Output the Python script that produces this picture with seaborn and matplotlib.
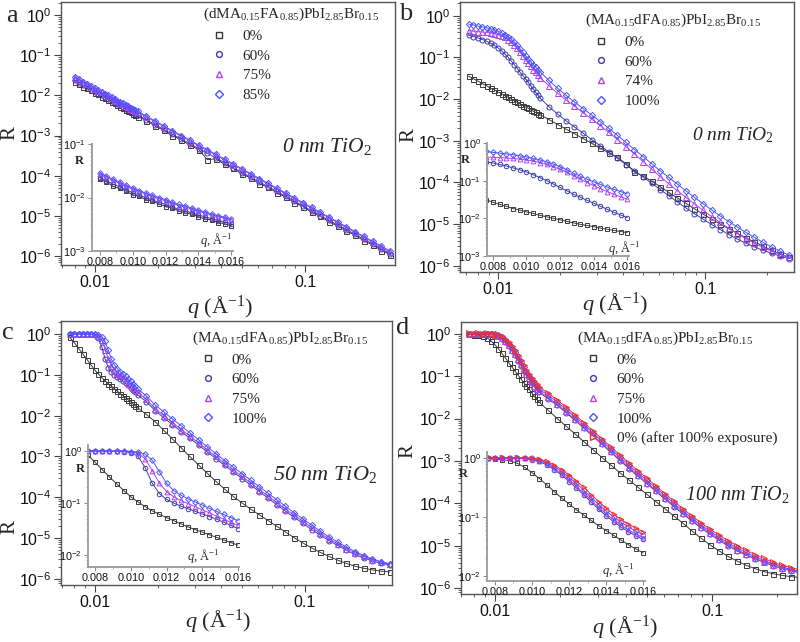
import numpy as np
import pandas as pd
import matplotlib
matplotlib.use("Agg")
import matplotlib.pyplot as plt
import seaborn as sns
from matplotlib.ticker import LogLocator, NullFormatter, MultipleLocator, FuncFormatter

nan = np.nan

# ---------------- data (q in 1/Angstrom, values are log10 R) ----------------
Q = [0.0072, 0.0076, 0.0080, 0.0084, 0.0088, 0.0092, 0.0096, 0.0100, 0.0104, 0.0108,
     0.0112, 0.0116, 0.0120, 0.0124, 0.0128, 0.0132, 0.0136, 0.0140, 0.0144, 0.0148,
     0.0152, 0.0156, 0.0160,
     0.0176, 0.0194, 0.0213, 0.0234, 0.0258, 0.0283, 0.0312, 0.0343, 0.0377, 0.0415,
     0.0456, 0.0502, 0.0552, 0.0607, 0.0668, 0.0735, 0.0808, 0.0889, 0.0978, 0.1076,
     0.1183, 0.1302, 0.1432, 0.1575, 0.1733, 0.1906, 0.2097, 0.2306, 0.2537]

# panel a : (dMA0.15FA0.85)PbI2.85Br0.15, 0 nm TiO2
a_0 = [nan, nan, -1.66, -1.71, -1.79, -1.83, -1.88, -1.95, -1.98, -2.04, -2.07, -2.12, -2.17, -2.20, -2.25, -2.29, -2.31, -2.36, -2.40, -2.42, -2.47, -2.49, -2.53,
       -2.63, -2.77, -2.87, -3.01, -3.11, -3.24, -3.35, -3.60, -3.58, -3.72, -3.82, -3.96, -4.06, -4.20, -4.29, -4.43, -4.53, -4.67, -4.77, -4.91, -5.01, -5.15, -5.25, -5.38, -5.48, -5.62, -5.72, -5.86, -5.96]
a_60 = [nan, nan, -1.63, -1.69, -1.75, -1.80, -1.86, -1.91, -1.96, -2.00, -2.05, -2.09, -2.13, -2.18, -2.22, -2.25, -2.29, -2.33, -2.36, -2.40, -2.43, -2.46, -2.49,
        -2.61, -2.73, -2.85, -2.97, -3.09, -3.20, -3.33, -3.44, -3.56, -3.68, -3.80, -3.92, -4.04, -4.16, -4.27, -4.39, -4.51, -4.63, -4.75, -4.87, -4.99, -5.11, -5.23, -5.34, -5.46, -5.58, -5.70, -5.82, -5.94]
a_75 = [nan, nan, -1.56, -1.62, -1.68, -1.73, -1.79, -1.84, -1.89, -1.93, -1.98, -2.02, -2.06, -2.11, -2.15, -2.18, -2.22, -2.26, -2.29, -2.33, -2.36, -2.39, -2.42,
        -2.54, -2.66, -2.78, -2.90, -3.02, -3.13, -3.26, -3.37, -3.49, -3.61, -3.73, -3.85, -3.97, -4.09, -4.21, -4.33, -4.45, -4.57, -4.69, -4.81, -4.93, -5.05, -5.17, -5.29, -5.41, -5.53, -5.65, -5.78, -5.90]
a_85 = [nan, nan, -1.54, -1.60, -1.66, -1.71, -1.77, -1.82, -1.87, -1.92, -1.96, -2.00, -2.04, -2.09, -2.13, -2.16, -2.20, -2.24, -2.27, -2.31, -2.34, -2.37, -2.40,
        -2.52, -2.64, -2.76, -2.88, -3.00, -3.11, -3.24, -3.35, -3.47, -3.59, -3.71, -3.83, -3.95, -4.07, -4.19, -4.31, -4.43, -4.55, -4.67, -4.79, -4.91, -5.03, -5.15, -5.27, -5.39, -5.51, -5.63, -5.75, -5.87]

# panel b : (MA0.15dFA0.85)PbI2.85Br0.15, 0 nm TiO2
b_0 = [-1.45, -1.51, -1.57, -1.63, -1.68, -1.74, -1.78, -1.83, -1.87, -1.92, -1.96, -2.00, -2.04, -2.08, -2.12, -2.16, -2.19, -2.22, -2.26, -2.29, -2.32, -2.35, -2.38,
       -2.49, -2.61, -2.72, -2.83, -2.95, -3.06, -3.18, -3.29, -3.40, -3.55, -3.75, -3.85, -3.97, -4.10, -4.24, -4.37, -4.50, -4.63, -4.76, -4.88, -5.00, -5.11, -5.22, -5.33, -5.43, -5.53, -5.63, -5.72, -5.80]
b_60 = [-0.47, -0.50, -0.53, -0.57, -0.61, -0.66, -0.71, -0.77, -0.84, -0.92, -1.00, -1.09, -1.18, -1.27, -1.36, -1.44, -1.52, -1.60, -1.68, -1.76, -1.84, -1.91, -1.98,
        -2.18, -2.36, -2.52, -2.67, -2.82, -2.97, -3.12, -3.27, -3.42, -3.57, -3.72, -3.87, -4.02, -4.17, -4.32, -4.47, -4.61, -4.75, -4.88, -5.01, -5.13, -5.25, -5.36, -5.46, -5.55, -5.63, -5.70, -5.77, -5.83]
b_74 = [-0.36, -0.37, -0.38, -0.39, -0.40, -0.41, -0.43, -0.45, -0.48, -0.52, -0.57, -0.63, -0.70, -0.78, -0.87, -0.96, -1.05, -1.13, -1.21, -1.29, -1.36, -1.43, -1.49,
        -1.68, -1.86, -2.02, -2.17, -2.33, -2.48, -2.64, -2.80, -2.97, -3.14, -3.32, -3.50, -3.68, -3.86, -4.03, -4.20, -4.36, -4.52, -4.67, -4.82, -4.96, -5.10, -5.23, -5.35, -5.46, -5.56, -5.65, -5.73, -5.80]
b_100 = [-0.20, -0.22, -0.25, -0.27, -0.29, -0.31, -0.34, -0.37, -0.41, -0.45, -0.50, -0.56, -0.63, -0.71, -0.80, -0.88, -0.96, -1.03, -1.10, -1.17, -1.23, -1.29, -1.35,
         -1.55, -1.74, -1.91, -2.07, -2.23, -2.38, -2.54, -2.70, -2.87, -3.04, -3.21, -3.38, -3.55, -3.72, -3.88, -4.04, -4.20, -4.36, -4.51, -4.66, -4.80, -4.94, -5.07, -5.20, -5.32, -5.44, -5.55, -5.65, -5.74]

# panel c : 50 nm TiO2
c_0 = [nan, -0.08, -0.22, -0.36, -0.50, -0.63, -0.76, -0.88, -0.98, -1.07, -1.15, -1.22, -1.28, -1.34, -1.40, -1.46, -1.51, -1.56, -1.61, -1.66, -1.71, -1.76, -1.81,
       -1.97, -2.15, -2.36, -2.57, -2.79, -3.00, -3.21, -3.41, -3.61, -3.80, -3.98, -4.14, -4.29, -4.43, -4.57, -4.71, -4.85, -4.99, -5.12, -5.24, -5.35, -5.45, -5.54, -5.62, -5.69, -5.74, -5.78, -5.81, -5.83]
c_60 = [nan, 0.00, 0.00, 0.00, 0.00, 0.00, -0.01, -0.03, -0.10, -0.32, -0.62, -0.82, -0.93, -1.00, -1.06, -1.11, -1.16, -1.21, -1.26, -1.31, -1.37, -1.43, -1.49,
        -1.66, -1.88, -2.05, -2.22, -2.39, -2.55, -2.72, -2.89, -3.05, -3.22, -3.38, -3.54, -3.70, -3.86, -4.02, -4.18, -4.34, -4.49, -4.64, -4.79, -4.93, -5.06, -5.18, -5.30, -5.40, -5.49, -5.56, -5.62, -5.66]
c_75 = [nan, 0.00, 0.00, 0.00, 0.00, 0.00, 0.00, -0.01, -0.04, -0.15, -0.38, -0.62, -0.78, -0.88, -0.95, -1.01, -1.07, -1.13, -1.19, -1.25, -1.31, -1.37, -1.43,
        -1.60, -1.83, -2.00, -2.17, -2.34, -2.50, -2.67, -2.84, -3.00, -3.17, -3.33, -3.49, -3.65, -3.81, -3.97, -4.13, -4.29, -4.44, -4.59, -4.74, -4.88, -5.02, -5.14, -5.26, -5.36, -5.45, -5.53, -5.59, -5.64]
c_100 = [nan, 0.00, 0.00, 0.00, 0.00, 0.00, 0.00, -0.01, -0.02, -0.06, -0.18, -0.40, -0.62, -0.76, -0.85, -0.92, -0.98, -1.04, -1.10, -1.16, -1.22, -1.28, -1.34,
         -1.52, -1.74, -1.91, -2.08, -2.25, -2.42, -2.59, -2.76, -2.93, -3.10, -3.26, -3.42, -3.58, -3.74, -3.90, -4.06, -4.22, -4.38, -4.53, -4.68, -4.83, -4.97, -5.10, -5.22, -5.33, -5.43, -5.51, -5.58, -5.63]

# panel d : 100 nm TiO2
d_0 = [nan, -0.01, -0.02, -0.03, -0.05, -0.09, -0.16, -0.25, -0.35, -0.46, -0.57, -0.68, -0.78, -0.88, -0.97, -1.06, -1.15, -1.23, -1.31, -1.39, -1.47, -1.54, -1.61,
       -1.80, -2.00, -2.18, -2.36, -2.55, -2.73, -2.92, -3.10, -3.28, -3.45, -3.62, -3.79, -3.96, -4.13, -4.30, -4.47, -4.65, -4.82, -4.98, -5.12, -5.25, -5.36, -5.46, -5.54, -5.61, -5.66, -5.70, -5.73, -5.75]
d_60 = [nan, -0.01, 0.00, -0.01, 0.00, -0.01, -0.01, -0.03, -0.06, -0.12, -0.20, -0.29, -0.40, -0.51, -0.63, -0.75, -0.87, -0.98, -1.08, -1.17, -1.25, -1.32, -1.38,
        -1.53, -1.69, -1.86, -2.04, -2.23, -2.42, -2.61, -2.80, -2.99, -3.18, -3.36, -3.54, -3.72, -3.90, -4.08, -4.25, -4.42, -4.58, -4.73, -4.87, -5.00, -5.12, -5.22, -5.31, -5.39, -5.47, -5.54, -5.59, -5.64]
d_75 = [nan, 0.00, 0.00, 0.00, 0.00, 0.00, -0.01, -0.02, -0.05, -0.10, -0.18, -0.27, -0.37, -0.48, -0.60, -0.72, -0.84, -0.95, -1.05, -1.14, -1.22, -1.29, -1.35,
        -1.50, -1.66, -1.83, -2.01, -2.20, -2.39, -2.58, -2.77, -2.96, -3.15, -3.33, -3.51, -3.69, -3.87, -4.05, -4.22, -4.39, -4.55, -4.70, -4.84, -4.97, -5.09, -5.20, -5.30, -5.38, -5.46, -5.53, -5.58, -5.63]
d_100 = [nan, 0.00, 0.00, 0.00, 0.00, 0.00, 0.00, -0.01, -0.03, -0.08, -0.15, -0.23, -0.33, -0.43, -0.55, -0.67, -0.79, -0.90, -1.00, -1.09, -1.17, -1.24, -1.30,
         -1.45, -1.61, -1.78, -1.96, -2.15, -2.34, -2.53, -2.72, -2.91, -3.10, -3.28, -3.46, -3.64, -3.82, -4.00, -4.18, -4.35, -4.51, -4.66, -4.80, -4.93, -5.05, -5.16, -5.26, -5.35, -5.43, -5.50, -5.56, -5.61]
d_after = [nan, 0.01, 0.00, 0.01, 0.00, 0.01, 0.00, 0.00, -0.02, -0.06, -0.12, -0.20, -0.29, -0.39, -0.50, -0.62, -0.74, -0.85, -0.95, -1.04, -1.12, -1.19, -1.25,
           -1.40, -1.56, -1.73, -1.91, -2.10, -2.29, -2.48, -2.67, -2.86, -3.05, -3.23, -3.41, -3.59, -3.77, -3.95, -4.13, -4.30, -4.46, -4.61, -4.75, -4.88, -5.00, -5.11, -5.21, -5.30, -5.39, -5.46, -5.52, -5.57]

title_a = r"(dMA$_{\mathrm{0.15}}$FA$_{\mathrm{0.85}}$)PbI$_{\mathrm{2.85}}$Br$_{\mathrm{0.15}}$"
title_bcd = r"(MA$_{\mathrm{0.15}}$dFA$_{\mathrm{0.85}}$)PbI$_{\mathrm{2.85}}$Br$_{\mathrm{0.15}}$"
labels_a = ["0%", "60%", "75%", "85%"]
labels_b = ["0%", "60%", "74%", "100%"]
labels_c = ["0%", "60%", "75%", "100%"]
labels_d = ["0%", "60%", "75%", "100%", "0% (after 100% exposure)"]
tio2 = ["0 nm TiO$_2$", "0 nm TiO$_2$", "50 nm TiO$_2$", "100 nm TiO$_2$"]
xtick_main = [0.01, 0.1]
xtick_main_lbl = ["0.01", "0.1"]
xtick_in = [0.008, 0.010, 0.012, 0.014, 0.016]
xtick_in_lbl = ["0.008", "0.010", "0.012", "0.014", "0.016"]

for arr in [a_0, a_60, a_75, a_85, b_0, b_60, b_74, b_100, c_0, c_60, c_75, c_100,
            d_0, d_60, d_75, d_100, d_after]:
    assert len(arr) == len(Q), len(arr)

# ---------------- style ----------------
sns.set_theme(style="ticks")
plt.rcParams.update({
    "font.family": ["Liberation Sans", "DejaVu Sans"],
    "mathtext.fontset": "custom",
    "mathtext.rm": "Liberation Serif",
    "mathtext.it": "Liberation Serif:italic",
    "mathtext.bf": "Liberation Serif:bold",
    "mathtext.sf": "Liberation Sans",
    "axes.edgecolor": "#555555",
    "axes.linewidth": 1.0,
    "xtick.color": "#444444",
    "ytick.color": "#444444",
    "xtick.labelcolor": "#111111",
    "ytick.labelcolor": "#111111",
})
SERIF = "Liberation Serif"

BLACK = "#3a3a3a"
DBLUE = "#3d3dab"
PURPLE = "#b044f0"
BLUE = "#4a55ff"
RED = "#ff2a2a"

W, H = 800, 642
fig = plt.figure(figsize=(W / 100, H / 100), dpi=100)

decade_fmt = FuncFormatter(lambda v, p: r"$\mathsf{10^{%d}}$" % int(round(np.log10(v))))


def add_px_axes(left, top, right, bottom):
    return fig.add_axes([left / W, 1 - bottom / H, (right - left) / W, (bottom - top) / H])


def draw(ax, logr, color, marker, ms, mew, lw, qmax=None):
    q = np.asarray(Q)
    r = 10.0 ** np.asarray(logr, dtype=float)
    m = np.isfinite(r)
    if qmax is not None:
        m &= q <= qmax
    df = pd.DataFrame({"q": q[m], "R": r[m]})
    sns.lineplot(data=df, x="q", y="R", ax=ax, color=color, lw=lw, errorbar=None, legend=False)
    sns.lineplot(data=df, x="q", y="R", ax=ax, color=color, linestyle="none", marker=marker,
                 markersize=ms, markerfacecolor="none", markeredgecolor=color,
                 markeredgewidth=mew, errorbar=None, legend=False)


def style_main(ax, xlim, ylim):
    ax.set_xscale("log")
    ax.set_yscale("log")
    ax.set_xlim(*xlim)
    ax.set_ylim(*ylim)
    ax.set_xticks(xtick_main, xtick_main_lbl)
    ax.xaxis.set_minor_locator(LogLocator(base=10, subs=np.arange(2, 10)))
    ax.xaxis.set_minor_formatter(NullFormatter())
    ax.yaxis.set_major_locator(LogLocator(base=10, numticks=20))
    ax.yaxis.set_major_formatter(decade_fmt)
    ax.yaxis.set_minor_locator(LogLocator(base=10, subs=np.arange(2, 10), numticks=20))
    ax.yaxis.set_minor_formatter(NullFormatter())
    ax.tick_params(which="major", direction="out", length=5, width=0.8, labelsize=11.5, pad=2)
    ax.tick_params(which="minor", direction="out", length=2.5, width=0.6)
    ax.set_xlabel("")
    ax.set_ylabel("")


def style_inset(ax, xlim, ylim):
    ax.set_facecolor("none")
    ax.set_yscale("log")
    ax.set_xlim(*xlim)
    ax.set_ylim(*ylim)
    ax.set_xticks(xtick_in, xtick_in_lbl)
    ax.xaxis.set_minor_locator(MultipleLocator(0.001))
    ax.yaxis.set_major_locator(LogLocator(base=10, numticks=10))
    ax.yaxis.set_major_formatter(decade_fmt)
    ax.yaxis.set_minor_locator(LogLocator(base=10, subs=np.arange(2, 10), numticks=10))
    ax.yaxis.set_minor_formatter(NullFormatter())
    for s in ["top", "right"]:
        ax.spines[s].set_visible(False)
    for s in ["left", "bottom"]:
        ax.spines[s].set_color("#a0a0a0")
        ax.spines[s].set_linewidth(1.4)
    ax.tick_params(which="major", direction="out", length=3, width=0.7, labelsize=7.8, pad=1.5,
                   color="#888888")
    ax.tick_params(which="minor", direction="out", length=1.5, width=0.5, color="#888888")
    ax.set_xlabel("")
    ax.set_ylabel("")


def legend(ax, title, labels, specs, anchor):
    handles = []
    for (c, m, ms) in specs:
        h, = ax.plot([], [], linestyle="none", marker=m, markerfacecolor="white",
                     markeredgecolor=c, color=c, markersize=ms + 0.6, markeredgewidth=1.0)
        handles.append(h)
    lg = ax.legend(handles, labels, title=title, loc="upper left", bbox_to_anchor=anchor,
                   frameon=False, prop={"family": SERIF, "size": 11},
                   title_fontproperties={"family": SERIF, "size": 11},
                   alignment="left", handlelength=2.05, handletextpad=0.55,
                   labelspacing=0.39, borderpad=0, borderaxespad=0, numpoints=1)
    lg.set_zorder(20)
    return lg


def labels(ax, xy_x, xy_y):
    ax.set_xlabel(r"$q$ (Å$^{\mathrm{-1}}$)", family=SERIF, fontsize=16)
    ax.xaxis.set_label_coords(*xy_x)
    ax.set_ylabel("R", family=SERIF, fontsize=15)
    ax.yaxis.set_label_coords(*xy_y)


def inset_texts(ax, rpos, qpos):
    ax.text(rpos[0], rpos[1], "R", transform=ax.transAxes, family=SERIF, fontweight="bold",
            fontsize=9, ha="center", va="center")
    ax.text(qpos[0], qpos[1], r"$q$, Å$^{\mathrm{-1}}$", transform=ax.transAxes, family=SERIF,
            fontsize=9, ha="center", va="center")


MS, MEW, LW = 3.6, 0.7, 0.7
QIN = 0.01615

# ---------------- panel a ----------------
ax = add_px_axes(61, 2, 395, 265)
specs_a = [(BLACK, "s", 3.6), (DBLUE, "o", 3.6), (PURPLE, "^", 3.8), (BLUE, "D", 3.2)]
for arr, (c, m, ms) in zip([a_0, a_60, a_75, a_85], specs_a):
    draw(ax, arr, c, m, ms, MEW, LW)
style_main(ax, (0.0069, 0.268), (10 ** -6.22, 10 ** 0.32))
legend(ax, title_a, labels_a, specs_a, (0.425, 0.985))
ax.text(0.796, 0.449, tio2[0], transform=ax.transAxes, family=SERIF, style="italic",
        fontsize=15.5, ha="center", va="center")
labels(ax, (0.476, -0.106), (-0.126, 0.50))
ins = add_px_axes(92, 144, 233, 251)
for arr, (c, m, ms) in zip([a_0, a_60, a_75, a_85], specs_a):
    draw(ins, arr, c, m, ms * 0.9, 0.7, LW, QIN)
style_inset(ins, (0.00752, 0.0161), (1e-3, 1e-1))
inset_texts(ins, (-0.09, 0.84), (0.88, 0.10))

# ---------------- panel b ----------------
ax = add_px_axes(460, 2, 794, 272)
specs_b = [(BLACK, "s", 3.6), (DBLUE, "o", 3.6), (PURPLE, "^", 3.8), (BLUE, "D", 3.2)]
for arr, (c, m, ms) in zip([b_0, b_60, b_74, b_100], specs_b):
    draw(ax, arr, c, m, ms, MEW, LW)
style_main(ax, (0.00655, 0.269), (10 ** -6.15, 10 ** 0.33))
legend(ax, title_bcd, labels_b, specs_b, (0.374, 0.963))
ax.text(0.817, 0.507, tio2[1], transform=ax.transAxes, family=SERIF, style="italic",
        fontsize=14, ha="center", va="center")
labels(ax, (0.464, -0.067), (-0.126, 0.507))
ins = add_px_axes(487, 143, 629, 256)
for arr, (c, m, ms) in zip([b_0, b_60, b_74, b_100], specs_b):
    draw(ins, arr, c, m, ms * 0.9, 0.7, LW, QIN)
style_inset(ins, (0.00765, 0.0161), (1e-3, 1e0))
inset_texts(ins, (-0.155, 0.85), (0.965, 0.07))

# ---------------- panel c ----------------
ax = add_px_axes(61, 321, 392, 585)
specs_c = [(BLACK, "s", 3.6), (DBLUE, "o", 3.6), (PURPLE, "^", 3.8), (BLUE, "D", 3.2)]
for arr, (c, m, ms) in zip([c_0, c_60, c_75, c_100], specs_c):
    draw(ax, arr, c, m, ms, MEW, LW)
style_main(ax, (0.0069, 0.26), (10 ** -6.15, 10 ** 0.32))
legend(ax, title_bcd, labels_c, specs_c, (0.396, 0.967))
ax.text(0.798, 0.417, tio2[2], transform=ax.transAxes, family=SERIF, style="italic",
        fontsize=16, ha="center", va="center")
labels(ax, (0.475, -0.083), (-0.127, 0.22))
ins = add_px_axes(88, 445, 239, 567)
for arr, (c, m, ms) in zip([c_0, c_60, c_75, c_100], specs_c):
    draw(ins, arr, c, m, ms * 0.9, 0.7, LW, QIN)
style_inset(ins, (0.0076, 0.01606), (10 ** -2.23, 10 ** 0.115))
inset_texts(ins, (-0.05, 0.80), (0.76, 0.09))

# ---------------- panel d ----------------
ax = add_px_axes(461, 322, 797, 594)
specs_d = [(BLACK, "s", 3.6), (DBLUE, "o", 3.6), (PURPLE, "^", 3.8), (BLUE, "D", 3.2), (RED, ">", 3.8)]
for arr, (c, m, ms) in zip([d_0, d_60, d_75, d_100, d_after], specs_d):
    draw(ax, arr, c, m, ms, MEW, LW)
style_main(ax, (0.0070, 0.246), (10 ** -6.14, 10 ** 0.28))
legend(ax, title_bcd, labels_d, specs_d, (0.345, 0.972))
ax.text(0.821, 0.364, tio2[3], transform=ax.transAxes, family=SERIF, style="italic",
        fontsize=14.5, ha="center", va="center")
labels(ax, (0.488, -0.07), (-0.131, 0.526))
ins = add_px_axes(487, 452, 645, 581)
for arr, (c, m, ms) in zip([d_0, d_60, d_75, d_100, d_after], specs_d):
    draw(ins, arr, c, m, ms * 0.9, 0.7, LW, QIN)
style_inset(ins, (0.00757, 0.0161), (10 ** -2.085, 10 ** 0.1))
inset_texts(ins, (-0.15, 0.83), (0.83, 0.085))

# panel letters
for letter, (x, y) in zip("abcd", [(12, 16), (406, 14), (8, 333), (403, 328)]):
    fig.text(x / W, 1 - y / H, letter, family=SERIF, fontsize=19, ha="center", va="center")

fig.savefig("out.png", dpi=100)
